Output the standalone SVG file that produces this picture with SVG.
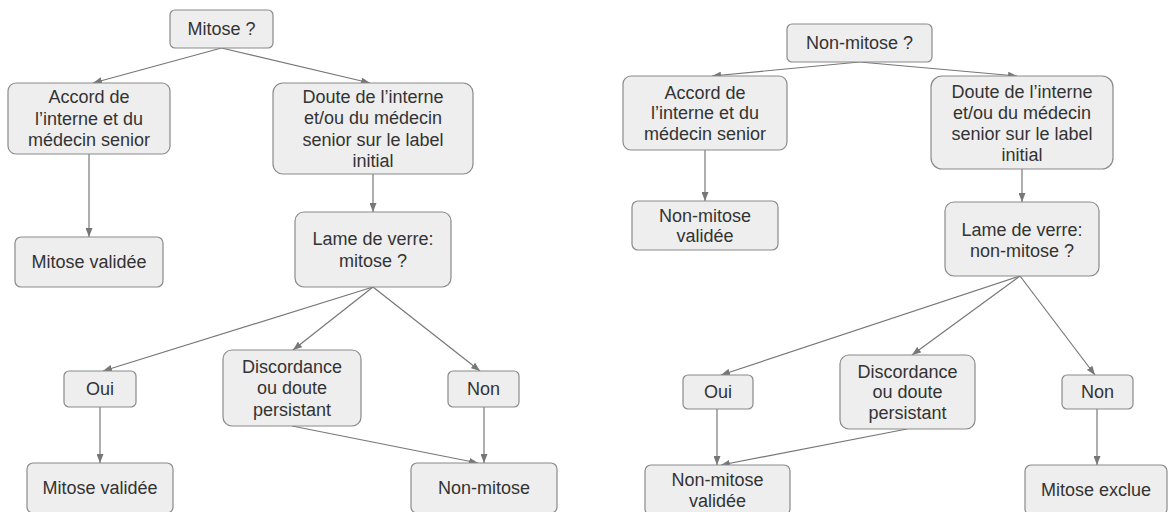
<svg xmlns="http://www.w3.org/2000/svg" width="1168" height="512" viewBox="0 0 1168 512">
<style>
.box{fill:#eeeeee;stroke:#8a8a8a;stroke-width:1.2}
.t{font-family:"Liberation Sans",Arial,sans-serif;font-size:18px;fill:#333333;text-anchor:middle}
.c{stroke:#777777;stroke-width:1.2;fill:none;marker-end:url(#ah)}
</style>
<defs>
<marker id="ah" markerUnits="userSpaceOnUse" markerWidth="9" markerHeight="7" refX="9" refY="3.5" orient="auto">
<path d="M0,0 L9,3.5 L0,7 z" fill="#777777"/>
</marker>
</defs>
<rect width="1168" height="512" fill="#ffffff"/>
<g id="connectors">
<line class="c" x1="221.5" y1="48" x2="93" y2="83"/>
<line class="c" x1="221.5" y1="48" x2="370" y2="83"/>
<line class="c" x1="89" y1="154" x2="89" y2="237"/>
<line class="c" x1="373" y1="174" x2="373" y2="212"/>
<line class="c" x1="373" y1="287" x2="103" y2="371"/>
<line class="c" x1="373" y1="287" x2="293" y2="350"/>
<line class="c" x1="373" y1="287" x2="480" y2="371"/>
<line class="c" x1="100" y1="407" x2="100" y2="463"/>
<line class="c" x1="292" y1="426" x2="478" y2="463"/>
<line class="c" x1="484" y1="407" x2="484" y2="463"/>
<line class="c" x1="859.5" y1="62" x2="712" y2="76"/>
<line class="c" x1="859.5" y1="62" x2="1017" y2="76"/>
<line class="c" x1="705" y1="150" x2="705" y2="201"/>
<line class="c" x1="1022" y1="169" x2="1022" y2="202"/>
<line class="c" x1="1020" y1="276" x2="721" y2="375"/>
<line class="c" x1="1020" y1="276" x2="912" y2="355"/>
<line class="c" x1="1020" y1="276" x2="1095" y2="375"/>
<line class="c" x1="717" y1="409" x2="717" y2="465"/>
<line class="c" x1="907" y1="429" x2="721" y2="465"/>
<line class="c" x1="1097" y1="409" x2="1097" y2="465"/>
</g>
<g id="L_q"><rect class="box" x="170" y="10" width="103" height="38" rx="5"/><text class="t" x="221.5" y="35.3">Mitose ?</text></g>
<g id="L_accord"><rect class="box" x="8" y="83" width="162" height="71" rx="8"/><text class="t"><tspan x="89" y="103.3">Accord de</tspan><tspan x="89" y="124.8">l’interne et du</tspan><tspan x="89" y="146.3">médecin senior</tspan></text></g>
<g id="L_doute"><rect class="box" x="273" y="83" width="200" height="91" rx="10"/><text class="t"><tspan x="373" y="102.5">Doute de l’interne</tspan><tspan x="373" y="124">et/ou du médecin</tspan><tspan x="373" y="145.5">senior sur le label</tspan><tspan x="373" y="167">initial</tspan></text></g>
<g id="L_valid1"><rect class="box" x="15" y="237" width="148" height="50" rx="6"/><text class="t" x="89" y="268.3">Mitose validée</text></g>
<g id="L_lame"><rect class="box" x="295" y="212" width="156" height="75" rx="9"/><text class="t"><tspan x="373" y="245.3">Lame de verre:</tspan><tspan x="373" y="266.8">mitose ?</tspan></text></g>
<g id="L_oui"><rect class="box" x="64" y="371" width="72" height="36" rx="5"/><text class="t" x="100" y="395.3">Oui</text></g>
<g id="L_disc"><rect class="box" x="223" y="350" width="138" height="76" rx="9"/><text class="t"><tspan x="292" y="372.8">Discordance</tspan><tspan x="292" y="394.3">ou doute</tspan><tspan x="292" y="415.8">persistant</tspan></text></g>
<g id="L_non"><rect class="box" x="448" y="371" width="71" height="36" rx="5"/><text class="t" x="483.5" y="395.3">Non</text></g>
<g id="L_valid2"><rect class="box" x="27" y="463" width="146" height="50" rx="6"/><text class="t" x="100" y="494.3">Mitose validée</text></g>
<g id="L_nonmitose"><rect class="box" x="411" y="463" width="146" height="50" rx="6"/><text class="t" x="484" y="494.3">Non-mitose</text></g>
<g id="R_q"><rect class="box" x="787" y="24" width="145" height="38" rx="5"/><text class="t" x="859.5" y="49.3">Non-mitose ?</text></g>
<g id="R_accord"><rect class="box" x="623" y="76" width="164" height="74" rx="8"/><text class="t"><tspan x="705" y="98.8">Accord de</tspan><tspan x="705" y="119.3">l’interne et du</tspan><tspan x="705" y="139.8">médecin senior</tspan></text></g>
<g id="R_doute"><rect class="box" x="931" y="76" width="182" height="93" rx="11"/><text class="t"><tspan x="1022" y="98">Doute de l’interne</tspan><tspan x="1022" y="119">et/ou du médecin</tspan><tspan x="1022" y="140">senior sur le label</tspan><tspan x="1022" y="161">initial</tspan></text></g>
<g id="R_valid1"><rect class="box" x="632" y="201" width="146" height="49" rx="6"/><text class="t"><tspan x="705" y="221.8">Non-mitose</tspan><tspan x="705" y="242.3">validée</tspan></text></g>
<g id="R_lame"><rect class="box" x="945" y="202" width="154" height="74" rx="9"/><text class="t"><tspan x="1022" y="236.3">Lame de verre:</tspan><tspan x="1022" y="257.3">non-mitose ?</tspan></text></g>
<g id="R_oui"><rect class="box" x="683" y="375" width="70" height="34" rx="5"/><text class="t" x="718" y="398.3">Oui</text></g>
<g id="R_disc"><rect class="box" x="840" y="355" width="135" height="74" rx="9"/><text class="t"><tspan x="907.5" y="377.8">Discordance</tspan><tspan x="907.5" y="398.3">ou doute</tspan><tspan x="907.5" y="418.8">persistant</tspan></text></g>
<g id="R_non"><rect class="box" x="1062" y="375" width="71" height="34" rx="5"/><text class="t" x="1097.5" y="398.3">Non</text></g>
<g id="R_valid2"><rect class="box" x="645" y="465" width="145" height="50" rx="6"/><text class="t"><tspan x="717.5" y="486.3">Non-mitose</tspan><tspan x="717.5" y="507.3">validée</tspan></text></g>
<g id="R_exclue"><rect class="box" x="1025" y="465" width="142" height="50" rx="6"/><text class="t" x="1096" y="496.3">Mitose exclue</text></g>
</svg>
